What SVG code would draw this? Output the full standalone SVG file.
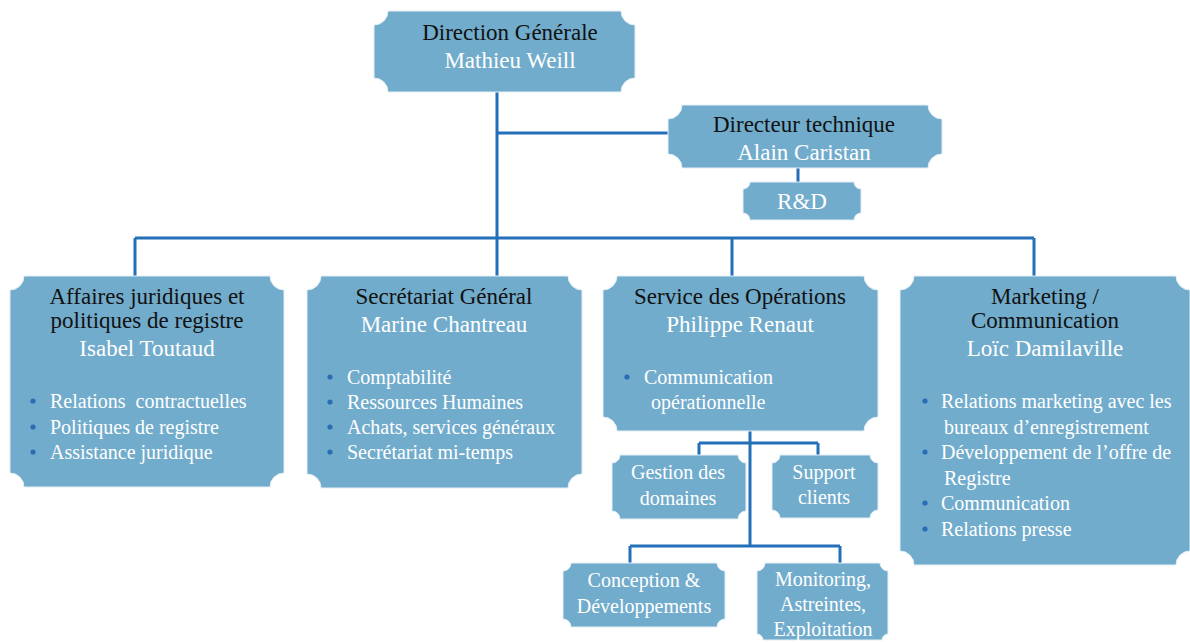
<svg xmlns="http://www.w3.org/2000/svg" width="1190" height="642" viewBox="0 0 1190 642">
<style>
.box{fill:#72ACCC;stroke:#E3EEF5;stroke-width:1}
.ln{fill:none;stroke:#2370B8;stroke-width:3}
text{font-family:"Liberation Serif","Times New Roman",serif;text-anchor:middle}
.h{font-size:23px;fill:#111111}
.n{font-size:23px;fill:#FFFFFF}
.b{font-size:20px;fill:#FFFFFF;text-anchor:start}
.s{font-size:20px;fill:#FFFFFF}
.dot{fill:#2A6DB3}
</style>
<rect width="1190" height="642" fill="#FFFFFF"/>
<g id="connectors">
<path class="ln" d="M497 92V276M497 133H668M798 168V182M135 238H1034M135 238V276M732 238V276M1034 238V276"/>
<path class="ln" d="M750 431V546M699 443H818M699 443V455M818 443V455M630 546H840M630 546V563M840 546V563"/>
</g>
<g id="direction-generale">
<path class="box" d="M388 11H621A14 14 0 0 0 635 25V78A14 14 0 0 0 621 92H388A14 14 0 0 0 374 78V25A14 14 0 0 0 388 11Z"/>
<text class="h" x="510" y="40">Direction Générale</text>
<text class="n" x="510" y="68">Mathieu Weill</text>
</g>
<g id="directeur-technique">
<path class="box" d="M682 105H928A14 14 0 0 0 942 119V154A14 14 0 0 0 928 168H682A14 14 0 0 0 668 154V119A14 14 0 0 0 682 105Z"/>
<text class="h" x="804" y="132">Directeur technique</text>
<text class="n" x="804" y="160">Alain Caristan</text>
</g>
<g id="rd">
<path class="box" d="M750 182H854A7 7 0 0 0 861 189V213A7 7 0 0 0 854 220H750A7 7 0 0 0 743 213V189A7 7 0 0 0 750 182Z"/>
<text class="n" x="802" y="209">R&amp;D</text>
</g>
<g id="affaires-juridiques">
<path class="box" d="M24 276H270A14 14 0 0 0 284 290V473A14 14 0 0 0 270 487H24A14 14 0 0 0 10 473V290A14 14 0 0 0 24 276Z"/>
<text class="h" x="147" y="304">Affaires juridiques et</text>
<text class="h" x="147" y="328">politiques de registre</text>
<text class="n" x="147" y="356">Isabel Toutaud</text>
<circle class="dot" cx="33" cy="401" r="2.6"/>
<circle class="dot" cx="33" cy="427" r="2.6"/>
<circle class="dot" cx="33" cy="452" r="2.6"/>
<text class="b" x="50" y="408" xml:space="preserve">Relations  contractuelles</text>
<text class="b" x="50" y="434">Politiques de registre</text>
<text class="b" x="50" y="459">Assistance juridique</text>
</g>
<g id="secretariat-general">
<path class="box" d="M321 276H568A14 14 0 0 0 582 290V474A14 14 0 0 0 568 488H321A14 14 0 0 0 307 474V290A14 14 0 0 0 321 276Z"/>
<text class="h" x="444" y="304">Secrétariat Général</text>
<text class="n" x="444" y="332">Marine Chantreau</text>
<circle class="dot" cx="330" cy="377" r="2.6"/>
<circle class="dot" cx="330" cy="402" r="2.6"/>
<circle class="dot" cx="330" cy="427" r="2.6"/>
<circle class="dot" cx="330" cy="452" r="2.6"/>
<text class="b" x="347" y="384">Comptabilité</text>
<text class="b" x="347" y="409">Ressources Humaines</text>
<text class="b" x="347" y="434">Achats, services généraux</text>
<text class="b" x="347" y="459">Secrétariat mi-temps</text>
</g>
<g id="service-operations">
<path class="box" d="M617 276H864A14 14 0 0 0 878 290V417A14 14 0 0 0 864 431H617A14 14 0 0 0 603 417V290A14 14 0 0 0 617 276Z"/>
<text class="h" x="740" y="304">Service des Opérations</text>
<text class="n" x="740" y="332">Philippe Renaut</text>
<circle class="dot" cx="627" cy="377" r="2.6"/>
<text class="b" x="644" y="384">Communication</text>
<text class="b" x="651" y="409">opérationnelle</text>
</g>
<g id="marketing-communication">
<path class="box" d="M914 276H1176A14 14 0 0 0 1190 290V551A14 14 0 0 0 1176 565H914A14 14 0 0 0 900 551V290A14 14 0 0 0 914 276Z"/>
<text class="h" x="1045" y="304">Marketing /</text>
<text class="h" x="1045" y="328">Communication</text>
<text class="n" x="1045" y="356">Loïc Damilaville</text>
<circle class="dot" cx="925" cy="401" r="2.6"/>
<circle class="dot" cx="925" cy="452" r="2.6"/>
<circle class="dot" cx="925" cy="503" r="2.6"/>
<circle class="dot" cx="925" cy="529" r="2.6"/>
<text class="b" x="941" y="408">Relations marketing avec les</text>
<text class="b" x="944" y="434">bureaux d’enregistrement</text>
<text class="b" x="941" y="459">Développement de l’offre de</text>
<text class="b" x="944" y="485">Registre</text>
<text class="b" x="941" y="510">Communication</text>
<text class="b" x="941" y="536">Relations presse</text>
</g>
<g id="gestion-domaines">
<path class="box" d="M620 455H738A8 8 0 0 0 746 463V511A8 8 0 0 0 738 519H620A8 8 0 0 0 612 511V463A8 8 0 0 0 620 455Z"/>
<text class="s" x="678" y="479">Gestion des</text>
<text class="s" x="678" y="505">domaines</text>
</g>
<g id="support-clients">
<path class="box" d="M780 455H870A8 8 0 0 0 878 463V510A8 8 0 0 0 870 518H780A8 8 0 0 0 772 510V463A8 8 0 0 0 780 455Z"/>
<text class="s" x="824" y="479">Support</text>
<text class="s" x="824" y="504">clients</text>
</g>
<g id="conception-developpements">
<path class="box" d="M571 563H717A8 8 0 0 0 725 571V619A8 8 0 0 0 717 627H571A8 8 0 0 0 563 619V571A8 8 0 0 0 571 563Z"/>
<text class="s" x="644" y="587">Conception &amp;</text>
<text class="s" x="644" y="613">Développements</text>
</g>
<g id="monitoring">
<path class="box" d="M765 563H880A8 8 0 0 0 888 571V634A6 6 0 0 0 882 640H763A6 6 0 0 0 757 634V571A8 8 0 0 0 765 563Z"/>
<text class="s" x="823" y="586">Monitoring,</text>
<text class="s" x="823" y="611">Astreintes,</text>
<text class="s" x="823" y="636">Exploitation</text>
</g>
</svg>
